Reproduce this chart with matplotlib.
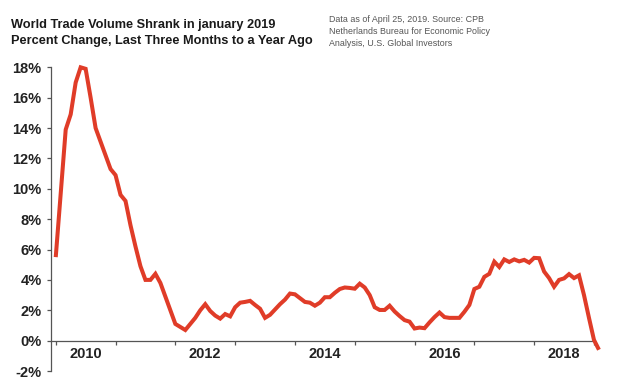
import numpy as np
import matplotlib
matplotlib.use("Agg")
import matplotlib.pyplot as plt
from matplotlib.ticker import FixedLocator, NullFormatter, FixedFormatter

matplotlib.rcParams.update({
    "font.family": ["Liberation Sans", "DejaVu Sans"],
})

# ── data: monthly, Jan 2010 -> Feb 2019 ─────────────────────────────────────
START_YEAR = 2010
pct_change = [
    5.5, 9.7, 13.9, 14.9, 17.0, 18.0, 17.9, 16.0, 14.0, 13.1,     # 2010
    12.2, 11.3,
    10.9, 9.6, 9.2, 7.6, 6.2, 4.9, 4.0, 4.0, 4.4, 3.8,            # 2011
    2.9, 2.0,
    1.1, 0.9, 0.7, 1.1, 1.5, 2.0, 2.4, 1.95, 1.65, 1.45,          # 2012
    1.75, 1.6,
    2.2, 2.5, 2.55, 2.62, 2.35, 2.1, 1.5, 1.7, 2.05, 2.4,         # 2013
    2.7, 3.1,
    3.05, 2.8, 2.55, 2.5, 2.3, 2.5, 2.86, 2.86, 3.15, 3.4,        # 2014
    3.5, 3.47,
    3.42, 3.75, 3.5, 3.0, 2.2, 2.02, 2.02, 2.3, 1.92, 1.62,       # 2015
    1.35, 1.25,
    0.8, 0.86, 0.82, 1.2, 1.55, 1.85, 1.55, 1.5, 1.5, 1.5,        # 2016
    1.9, 2.35,
    3.4, 3.55, 4.2, 4.4, 5.2, 4.85, 5.35, 5.18, 5.35, 5.22,       # 2017
    5.32, 5.14,
    5.45, 5.43, 4.55, 4.12, 3.55, 4.0, 4.1, 4.38, 4.12, 4.3,      # 2018
    3.0, 1.5,
    0.05, -0.6,                                                   # 2019
]
years_tick = list(range(2010, 2020))
year_labels = ["2010", "", "2012", "", "2014", "", "2016", "", "2018"]
y_ticks = [-2, 0, 2, 4, 6, 8, 10, 12, 14, 16, 18]

t = START_YEAR + np.arange(len(pct_change)) / 12.0

# ── figure ───────────────────────────────────────────────────────────────────
fig = plt.figure(figsize=(6.2, 3.88), dpi=100)
ax = fig.add_axes([0.0818, 0.0438, 0.958 - 0.0818, 0.8265 - 0.0438])

LINE_RED = "#e03c28"
AX_GRAY = "#555555"

ax.plot(t, pct_change, color=LINE_RED, lw=2.9, solid_joinstyle="miter",
        solid_capstyle="butt", clip_on=False, zorder=3)

ax.set_xlim(2009.916, 2019.0)
ax.set_ylim(-2, 18)

for s in ("top", "right"):
    ax.spines[s].set_visible(False)
ax.spines["bottom"].set_position(("data", 0))
ax.spines["bottom"].set_color(AX_GRAY)
ax.spines["left"].set_color(AX_GRAY)
ax.spines["bottom"].set_linewidth(0.9)
ax.spines["left"].set_linewidth(0.9)

ax.set_yticks(y_ticks)
ax.set_yticklabels([f"{v}%" for v in y_ticks])
ax.tick_params(axis="y", direction="out", length=3, width=0.9, color=AX_GRAY,
               pad=3.5, labelsize=10.5, labelcolor="#222222")
for lab in ax.get_yticklabels():
    lab.set_fontweight("bold")

# year boundaries as major ticks, labels centred in each year (minor)
ax.xaxis.set_major_locator(FixedLocator(years_tick))
ax.xaxis.set_major_formatter(NullFormatter())
ax.xaxis.set_minor_locator(FixedLocator([y + 0.5 for y in years_tick[:-1]]))
ax.xaxis.set_minor_formatter(FixedFormatter(year_labels))
ax.tick_params(axis="x", which="major", direction="out", length=3, width=0.9,
               color=AX_GRAY)
ax.tick_params(axis="x", which="minor", length=0, pad=4.5, labelsize=10.5,
               labelcolor="#222222")
for lab in ax.xaxis.get_minorticklabels():
    lab.set_fontweight("bold")

# ── header text ──────────────────────────────────────────────────────────────
fig.text(0.018, 0.95, "World Trade Volume Shrank in january 2019\n"
         "Percent Change, Last Three Months to a Year Ago",
         ha="left", va="top", fontsize=9.2, fontweight="bold",
         color="#1a1a1a", linespacing=1.4)
fig.text(0.53, 0.962, "Data as of April 25, 2019. Source: CPB\n"
         "Netherlands Bureau for Economic Policy\n"
         "Analysis, U.S. Global Investors",
         ha="left", va="top", fontsize=6.4, color="#555555", linespacing=1.45)

fig.savefig("out.png", dpi=100)
